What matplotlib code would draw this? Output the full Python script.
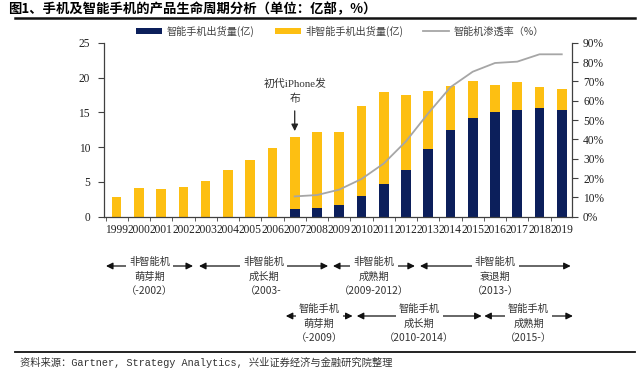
import numpy as np
import matplotlib
matplotlib.use("Agg")
import matplotlib.pyplot as plt
import matplotlib.transforms as mtransforms
from matplotlib.patches import Patch
from matplotlib.lines import Line2D
from matplotlib.ticker import PercentFormatter, FixedLocator

plt.rcParams['font.family'] = ['Noto Sans CJK SC', 'DejaVu Sans']

## data
years = ['1999', '2000', '2001', '2002', '2003', '2004', '2005', '2006', '2007', '2008',
         '2009', '2010', '2011', '2012', '2013', '2014', '2015', '2016', '2017', '2018', '2019']
smart = [0, 0, 0, 0, 0, 0, 0, 0, 1.15, 1.3, 1.7, 3.0, 4.75, 6.75, 9.7, 12.5, 14.2, 15.0, 15.4, 15.6, 15.4]      # 亿
nonsmart = [2.8, 4.1, 4.0, 4.3, 5.2, 6.75, 8.2, 9.9, 10.35, 10.9, 10.4, 12.95, 13.15, 10.75, 8.4, 6.3,
            5.3, 3.9, 3.9, 3.05, 3.0]                                                                     # 亿
pen_years = ['2007', '2008', '2009', '2010', '2011', '2012', '2013', '2014', '2015', '2016', '2017', '2018', '2019']
penetration = [10.5, 11.2, 14.0, 19.5, 27.5, 39.0, 53.5, 67.0, 75.0, 79.5, 80.2, 84.0, 84.0]              # %

series_names = ['智能手机出货量(亿)', '非智能手机出货量(亿)', '智能机渗透率（%）']

# life-cycle periods: (label, start, end) as year-index positions
phases_old = [('非智能机\n萌芽期\n（-2002）', -0.48, 3.43),
              ('非智能机\n成长期\n（2003-', 3.7, 9.5),
              ('非智能机\n成熟期\n（2009-2012）', 9.72, 13.4),
              ('非智能机\n衰退期\n（2013-）', 13.63, 20.4)]
phases_smart = [('智能手机\n萌芽期\n（-2009）', 7.6, 10.6),
                ('智能手机\n成长期\n（2010-2014）', 10.79, 16.4),
                ('智能手机\n成熟期\n（2015-）', 16.52, 20.5)]

title = '图1、手机及智能手机的产品生命周期分析（单位：亿部，%）'
source = '资料来源：Gartner, Strategy Analytics, 兴业证券经济与金融研究院整理'

navy = '#0c1f5b'
yellow = '#fdbf12'
grey = '#a6a6a6'
axc = '#404040'

W, H = 640, 378
fig = plt.figure(figsize=(W / 100, H / 100), dpi=100)
ax = fig.add_axes([104 / W, 1 - 216.7 / H, (572 - 104) / W, (216.7 - 42.7) / H])

x = np.arange(len(years))
ax.bar(x, smart, width=0.43, color=navy, zorder=2)
ax.bar(x, nonsmart, width=0.43, bottom=smart, color=yellow, zorder=2)
ax.set_xlim(-0.57, 20.46)
ax.set_ylim(0, 25)
ax.set_yticks([0, 5, 10, 15, 20, 25])

ax2 = ax.twinx()
px = [years.index(y) for y in pen_years]
ax2.plot(px, np.array(penetration) / 100, color=grey, lw=1.3)
ax2.set_ylim(0, 0.9)
ax2.set_yticks(np.arange(0, 0.91, 0.1))
ax2.yaxis.set_major_formatter(PercentFormatter(1.0, decimals=0))

for a in (ax, ax2):
    a.spines['top'].set_visible(False)
    for s in a.spines.values():
        s.set_color(axc)
        s.set_linewidth(0.9)
ax.spines['right'].set_visible(False)
ax2.spines['bottom'].set_visible(False)
ax2.spines['left'].set_visible(False)

ax.set_xticks(x)
ax.set_xticklabels(years)
ax.xaxis.set_minor_locator(FixedLocator(np.arange(-0.5, 20.6, 1)))
ax.tick_params(axis='x', which='major', length=0, pad=5)
ax.tick_params(axis='x', which='minor', length=3, color=axc, direction='out')
ax.tick_params(axis='y', length=4, color=axc, pad=6)
ax2.tick_params(axis='y', length=4, color=axc, pad=4)
for lab in ax.get_xticklabels() + ax.get_yticklabels() + ax2.get_yticklabels():
    lab.set_family('Liberation Serif')
    lab.set_fontsize(8.3)
    lab.set_color('#222222')

# legend
handles = [Patch(facecolor=navy), Patch(facecolor=yellow), Line2D([], [], color=grey, lw=1.3)]
fig.legend(handles, series_names, loc='center', bbox_to_anchor=(340 / W, 1 - 31 / H), ncol=3,
           frameon=False, fontsize=7.3, handlelength=2.6, handleheight=0.6, columnspacing=2.0,
           handletextpad=0.4, labelcolor='#404040')

# iPhone note
ix = years.index('2007')
ax.annotate('', xy=(ix, nonsmart[ix] + smart[ix] + 0.4), xytext=(ix, 15.6),
            arrowprops=dict(arrowstyle='-|>', color='#222222', lw=0.9, mutation_scale=10))
ax.text(ix, 18.0, '初代iPhone发\n布', ha='center', va='center', fontsize=7.8, linespacing=1.5,
        family=['Liberation Serif', 'Noto Sans CJK SC'], color='#333333')

# life-cycle phases under the axis
tr = mtransforms.blended_transform_factory(ax.transData, fig.transFigure)


def phase_row(phases, y_arrow, y_first):
    for lab, a, b in phases:
        ax.annotate('', xy=(a, y_arrow), xytext=(b, y_arrow), xycoords=tr, textcoords=tr,
                    annotation_clip=False,
                    arrowprops=dict(arrowstyle='<|-|>', color='#111111', lw=0.9,
                                    mutation_scale=10, shrinkA=0, shrinkB=0))
        for k, line in enumerate(lab.split('\n')):
            box = dict(boxstyle='square,pad=0.3', fc='white', ec='none') if k == 0 else None
            ax.text((a + b) / 2, 1 - (y_first + 14.4 * k) / H, line, transform=tr, ha='center',
                    va='center', fontsize=7.4, color='#333333', clip_on=False, bbox=box)


phase_row(phases_old, 1 - 266 / H, 262.3)
phase_row(phases_smart, 1 - 316 / H, 309.3)

# title, rules, source
fig.text(8 / W, 1 - 9.5 / H, title, fontsize=9.6, fontweight='bold', va='center', ha='left')
fig.add_artist(Line2D([15 / W, 635 / W], [1 - 18 / H, 1 - 18 / H], color='#111111', lw=1.8))
fig.add_artist(Line2D([15 / W, 635 / W], [1 - 351.7 / H, 1 - 351.7 / H], color='#111111', lw=1.3))
fig.text(20 / W, 1 - 362 / H, source, fontsize=7.4, va='center', ha='left',
         family=['Liberation Mono', 'Noto Sans CJK SC'], color='#333333')

fig.savefig('out.png', dpi=100)
